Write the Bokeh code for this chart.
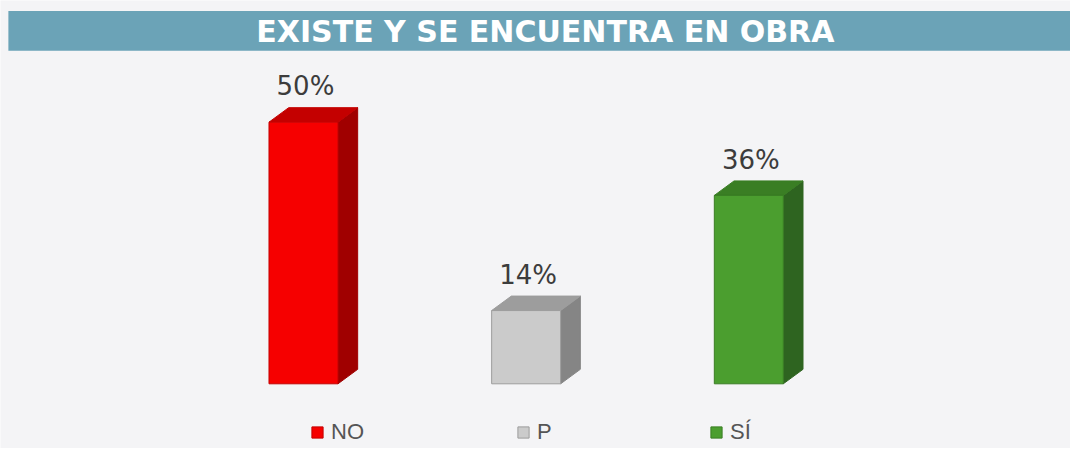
from bokeh.plotting import figure
from bokeh.models import Range1d, ColumnDataSource, Legend, LegendItem
from bokeh.core.properties import value
from bokeh.embed import file_html
from bokeh.resources import INLINE

# ---- data ----
title_text = "EXISTE Y SE ENCUENTRA EN OBRA"
categories = ["NO", "P", "SÍ"]
values = [50, 14, 36]
front_colors = ["#f60000", "#cbcbcb", "#4b9e2f"]
top_colors = ["#c40000", "#9d9d9d", "#3a7e24"]
side_colors = ["#a00000", "#858585", "#2e6420"]

# ---- layout (pixels) ----
W, H = 1070, 448
KX, KY = W / 1086.0, H / 464.0   # map reference-pixel layout into the figure
SX = 226.0 * KX          # px per category step
X0 = 307.5 * KX          # px of first category centre
SY = 5.42 * KY           # px per percent
BASE = H - 397.0 * KY    # baseline px from bottom
HALF = 35.0 * KX / SX    # half bar width (data units)
DX = 20.0 * KX / SX      # 3D depth x
DY = 15.0 * KY / SY      # 3D depth y
BG = "#f4f4f6"

def rx(ref_px):
    return (ref_px * KX - X0) / SX

def ry(ref_px_from_top):
    return (H - ref_px_from_top * KY - BASE) / SY

p = figure(width=W, height=H, output_backend="svg", toolbar_location=None,
           x_range=Range1d(rx(0), rx(1086)), y_range=Range1d(ry(464), ry(0)),
           min_border=0, background_fill_color=BG, border_fill_color=BG,
           outline_line_color=None)
p.xaxis.visible = False
p.yaxis.visible = False
p.grid.visible = False

# title bar
p.quad(left=rx(8), right=rx(1086), top=ry(11), bottom=ry(52),
       fill_color="#6ba3b7", line_color=None)
p.text(x=[rx(553)], y=[ry(32)], text=[title_text],
       text_font=value("DejaVu Sans"), text_font_style="bold",
       text_font_size="30px", text_color="white",
       text_align="center", text_baseline="middle")

xs = list(range(len(categories)))

side_xs, side_ys, top_xs, top_ys = [], [], [], []
for i, v in zip(xs, values):
    r = i + HALF
    l = i - HALF
    side_xs.append([r, r + DX, r + DX, r])
    side_ys.append([0, DY, v + DY, v])
    top_xs.append([l, r, r + DX, l + DX])
    top_ys.append([v, v, v + DY, v + DY])

p.patches(xs=side_xs, ys=side_ys, fill_color=side_colors, line_color=side_colors,
          line_width=1)
p.patches(xs=top_xs, ys=top_ys, fill_color=top_colors, line_color=top_colors,
          line_width=1)

src = ColumnDataSource(dict(
    left=[i - HALF for i in xs], right=[i + HALF for i in xs],
    top=values, bottom=[0] * len(values),
    fill=front_colors, line=top_colors,
    lx=[i + 2.0 / SX for i in xs], ly=[v + 37.0 * KY / SY for v in values],
    lbl=[f"{v}%" for v in values]))

front = p.quad(left="left", right="right", top="top", bottom="bottom", source=src,
               fill_color="fill", line_color="line", line_width=1)

p.text(x="lx", y="ly", text="lbl", source=src, text_font=value("DejaVu Sans"),
       text_font_size="26px", text_color="#3c3c3c",
       text_align="center", text_baseline="middle")

items = [LegendItem(label=c, renderers=[front], index=i) for i, c in enumerate(categories)]
legend = Legend(items=items, orientation="horizontal",
                location=(int(315 * KX), int(H - 450 * KY - 10)),
                spacing=152, glyph_width=14, glyph_height=14, label_standoff=7,
                label_height=20, padding=0, margin=0,
                border_line_color=None, background_fill_alpha=0,
                label_text_font="Liberation Sans", label_text_font_size="22px",
                label_text_color="#555555", label_text_baseline="middle")
p.add_layout(legend, "center")

open("out.html", "w").write(file_html(p, INLINE))
